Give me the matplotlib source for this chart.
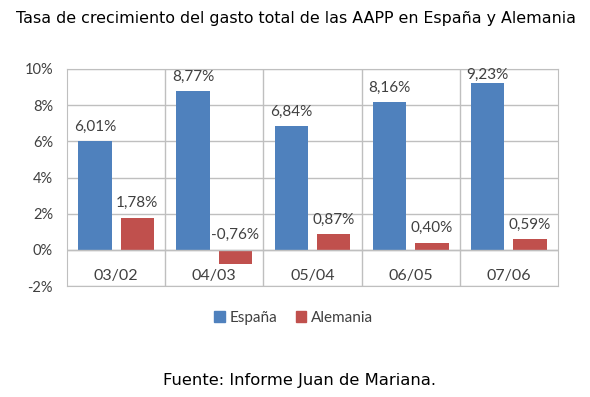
"""Growth rate of total public spending, Spain vs Germany (Excel-style bar chart)."""

import numpy as np
from matplotlib import pyplot as plt
from matplotlib.patches import Patch

periods = ["03/02", "04/03", "05/04", "06/05", "07/06"]
espana = [6.01, 8.77, 6.84, 8.16, 9.23]
alemania = [1.78, -0.76, 0.87, 0.40, 0.59]
y_ticks = [-2, 0, 2, 4, 6, 8, 10]

BLUE = "#4F81BD"
RED = "#C0504D"
GRID = "#BFBFBF"
TEXT = "#404040"
CHART_FONT = ["Lato", "DejaVu Sans"]

fig = plt.figure(figsize=(5.9, 3.97), dpi=100)
ax = fig.add_axes([67 / 590, 1 - 286 / 397, 491 / 590, 217 / 397])

x = np.arange(len(periods))
width = 0.34
offset = 0.215
ax.bar(x - offset, espana, width, color=BLUE, zorder=2)
ax.bar(x + offset, alemania, width, color=RED, zorder=2)

ax.set_xlim(-0.5, len(periods) - 0.5)
ax.set_ylim(y_ticks[0], y_ticks[-1])
ax.set_yticks(y_ticks)
ax.set_yticklabels([f"{t}%" for t in y_ticks], fontfamily=CHART_FONT, fontsize=10.5, color=TEXT)
ax.tick_params(axis="y", length=0, pad=10)
ax.set_xticks([])
ax.grid(axis="y", color=GRID, linewidth=1)
for xv in x[:-1] + 0.5:
    ax.axvline(xv, color=GRID, linewidth=1, zorder=1)
ax.axhline(0, color=GRID, linewidth=1, zorder=3)
for spine in ax.spines.values():
    spine.set_color(GRID)
ax.set_axisbelow(True)

# category labels sit inside the frame, below the zero line
for xi, name in zip(x, periods):
    ax.text(xi, -1.45, name, ha="center", va="center", fontfamily=CHART_FONT,
            fontsize=11.5, color=TEXT)

# value labels above each bar (Excel keeps the top one inside the frame)
for values, shift in ((espana, -offset), (alemania, offset)):
    for xi, v in zip(x, values):
        ly = min(max(v, 0) + 0.8, 9.65)
        ax.text(xi + shift, ly, f"{v:.2f}%".replace(".", ","), ha="center", va="center",
                fontfamily=CHART_FONT, fontsize=11, color=TEXT)

fig.text(0.5025, 1 - 18 / 397, "Tasa de crecimiento del gasto total de las AAPP en España y Alemania",
         ha="center", va="center", fontsize=11.4, color="black")
fig.text(0.5076, 1 - 381 / 397, "Fuente: Informe Juan de Mariana.", ha="center", va="center",
         fontsize=11.8, color="black")

handles = [Patch(color=BLUE, label="España"), Patch(color=RED, label="Alemania")]
fig.legend(handles=handles, loc="center", bbox_to_anchor=(0.498, 1 - 318 / 397), ncol=2,
           frameon=False, handlelength=0.7, handleheight=0.7, handletextpad=0.3,
           columnspacing=1.2, prop={"family": CHART_FONT, "size": 11}, labelcolor=TEXT)

fig.savefig("out.png", dpi=100)
